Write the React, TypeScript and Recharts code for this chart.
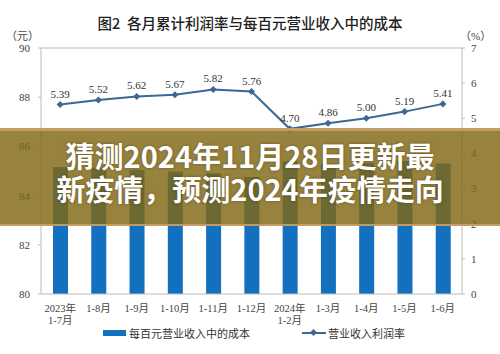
import React from "react";
import { ComposedChart, Bar, Line, XAxis, YAxis, ReferenceLine, LabelList } from "recharts";

const periods = ["2023年|1-7月", "1-8月", "1-9月", "1-10月", "1-11月", "1-12月", "2024年|1-2月", "1-3月", "1-4月", "1-5月", "1-6月"];
const costPer100 = [85.16, 85.13, 85.04, 84.98, 84.91, 84.76, 85.4, 85.29, 85.33, 85.41, 85.3];
const profitRate = [5.39, 5.52, 5.62, 5.67, 5.82, 5.76, 4.7, 4.86, 5.0, 5.19, 5.41];
const leftTicks = [80, 82, 84, 86, 88, 90];
const rightTicks = [0, 1, 2, 3, 4, 5, 6, 7];

const data = periods.map((p, i) => ({ period: p, cost: costPer100[i], rate: profitRate[i] }));

const SERIF = '"Liberation Serif", "Times New Roman", "Noto Sans CJK SC", serif';
const AXIS_GREY = "#bcbcbc";
const BAR_BLUE = "#1370be";
const LINE_BLUE = "#3d6894";

function PeriodTick({ x, y, payload }: any) {
  const lines = String(payload.value).split("|");
  return (
    <g transform={`translate(${x},${y})`}>
      {lines.map((l, i) => (
        <text key={i} x={0} y={i * 12} dy={10} textAnchor="middle" fontSize={10.5} fill="#444" fontFamily={SERIF}>
          {l}
        </text>
      ))}
    </g>
  );
}

function LegendBox() {
  return (
    <div style={{ position: "relative", width: 500, height: 20, fontFamily: SERIF, fontSize: 11, color: "#333" }}>
      <div style={{ position: "absolute", left: 103, top: 7, width: 23, height: 6, background: BAR_BLUE }} />
      <span style={{ position: "absolute", left: 129, top: 2 }}>每百元营业收入中的成本</span>
      <div style={{ position: "absolute", left: 302, top: 9, width: 24, height: 2, background: LINE_BLUE }} />
      <div style={{ position: "absolute", left: 311, top: 7, width: 5, height: 5, background: LINE_BLUE, transform: "rotate(45deg)" }} />
      <span style={{ position: "absolute", left: 328, top: 2 }}>营业收入利润率</span>
    </div>
  );
}

export default function App() {
  return (
    <div style={{ position: "absolute", left: 0, top: 0, width: 500, height: 354, background: "#fff", overflow: "hidden" }}>
      <div
        style={{
          position: "absolute",
          top: 12,
          width: 500,
          textAlign: "center",
          fontFamily: '"Noto Sans CJK SC", sans-serif',
          fontSize: 14.5,
          fontWeight: 500,
          color: "#222",
        }}
      >
        图2&nbsp;&nbsp;各月累计利润率与每百元营业收入中的成本
      </div>
      <div style={{ position: "absolute", left: 6, top: 27, fontFamily: SERIF, fontSize: 11, color: "#444" }}>（元）</div>
      <div style={{ position: "absolute", left: 460, top: 27, fontFamily: SERIF, fontSize: 11, color: "#444" }}>（%）</div>

      <ComposedChart width={500} height={354} data={data} margin={{ top: 48, right: 0, bottom: 20, left: 0 }} barCategoryGap="30%">
        <XAxis
          dataKey="period"
          interval={0}
          height={40}
          tick={<PeriodTick />}
          axisLine={{ stroke: AXIS_GREY }}
          tickLine={false}
        />
        <YAxis
          yAxisId="left"
          domain={[80, 90]}
          ticks={leftTicks}
          width={41}
          axisLine={{ stroke: AXIS_GREY }}
          tickLine={{ stroke: AXIS_GREY }}
          tickSize={3}
          tickMargin={8}
          tick={{ fontSize: 11, fill: "#444", fontFamily: SERIF }}
        />
        <YAxis
          yAxisId="right"
          orientation="right"
          domain={[0, 7]}
          ticks={rightTicks}
          width={38}
          axisLine={{ stroke: AXIS_GREY }}
          tickLine={{ stroke: AXIS_GREY }}
          tickSize={3}
          tickMargin={6}
          tick={{ fontSize: 11, fill: "#444", fontFamily: SERIF }}
        />
        <ReferenceLine yAxisId="left" y={90} stroke={AXIS_GREY} />
        <Bar yAxisId="left" dataKey="cost" fill={BAR_BLUE} barSize={15} isAnimationActive={false} />
        <Line
          yAxisId="right"
          dataKey="rate"
          stroke={LINE_BLUE}
          strokeWidth={2}
          dot={(p: any) => (
            <rect
              key={p.index}
              x={p.cx - 2.5}
              y={p.cy - 2.5}
              width={5}
              height={5}
              fill={LINE_BLUE}
              transform={`rotate(45 ${p.cx} ${p.cy})`}
            />
          )}
          isAnimationActive={false}
        >
          <LabelList
            dataKey="rate"
            position="top"
            offset={7}
            formatter={(v: any) => Number(v).toFixed(2)}
            style={{ fontSize: 11, fill: "#333", fontFamily: SERIF }}
          />
        </Line>
      </ComposedChart>

      <div style={{ position: "absolute", left: 0, top: 323 }}>
        <LegendBox />
      </div>

      <div
        style={{
          position: "absolute",
          left: 0,
          top: 128,
          width: 500,
          height: 98,
          background: "rgba(128,104,20,0.82)",
          borderTop: "3px solid rgba(200,158,105,0.95)",
          borderBottom: "2px solid rgba(200,158,105,0.9)",
          boxSizing: "border-box",
          textAlign: "center",
          color: "#fff",
          fontFamily: '"Noto Sans CJK SC", sans-serif',
          fontWeight: 700,
          fontSize: 29,
          lineHeight: "33px",
          paddingTop: 8,
          textShadow: "0 0 3px rgba(60,40,0,0.5)",
        }}
      >
        猜测2024年11月28日更新最
        <br />
        新疫情，预测2024年疫情走向
      </div>
    </div>
  );
}
